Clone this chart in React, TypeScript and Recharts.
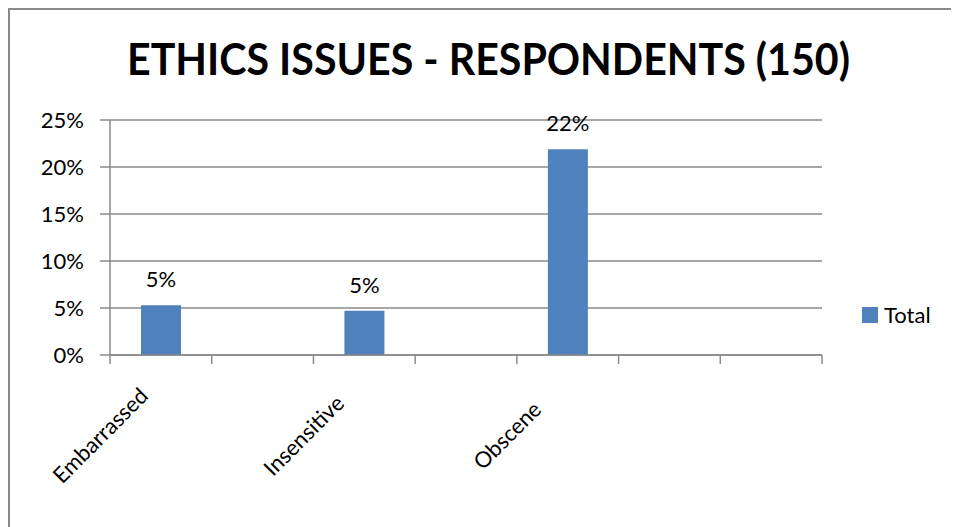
import React from "react";
import { BarChart, Bar, XAxis, YAxis, CartesianGrid, Legend, LabelList } from "recharts";

const CATEGORIES = ["Embarrassed", "", "Insensitive", "", "Obscene", "", ""];
const TOTALS: (number | null)[] = [0.053, null, 0.047, null, 0.219, null, null];
const Y_TICKS = [0, 0.05, 0.1, 0.15, 0.2, 0.25];

const GRID = "#8a8a8a";
const BAR = "#4F81BD";
const FONT = "Lato, 'Noto Sans', sans-serif";

// blank categories still need distinct keys
const data = CATEGORIES.map((name, i) => ({ name: name || `_${i}`, total: TOTALS[i] }));

const pct = (v: number) => `${Math.round(v * 100)}%`;

// excel style: tick marks sit on the band edges, labels turned 45deg
const CategoryTick = (props: any) => {
  const { x, y, payload, index } = props;
  const half = payload?.offset ?? 0;
  const label = CATEGORIES[index];
  const tx = x - 61;
  const ty = y + 80;
  return (
    <g>
      <line x1={x - half} y1={y} x2={x - half} y2={y + 9} stroke={GRID} strokeWidth={1.5} />
      {index === CATEGORIES.length - 1 && (
        <line x1={x + half} y1={y} x2={x + half} y2={y + 9} stroke={GRID} strokeWidth={1.5} />
      )}
      {label && (
        <text
          x={tx}
          y={ty}
          textAnchor="middle"
          dominantBaseline="central"
          transform={`rotate(-45, ${tx}, ${ty})`}
          fontFamily={FONT}
          fontSize={22}
          fill="#000"
        >
          {label}
        </text>
      )}
    </g>
  );
};

const LegendBox = () => (
  <div style={{ display: "flex", alignItems: "center", fontFamily: FONT, fontSize: 22, color: "#000" }}>
    <span style={{ width: 16, height: 16, background: BAR, display: "inline-block", marginRight: 6 }} />
    <span>Total</span>
  </div>
);

export default function App() {
  return (
    <div
      style={{
        position: "relative",
        width: 951,
        height: 519,
        boxSizing: "border-box",
        borderLeft: `2px solid ${GRID}`,
        borderTop: `2px solid ${GRID}`,
        background: "#fff",
      }}
    >
      <svg width={949} height={100} style={{ position: "absolute", left: 0, top: 0 }}>
        <text
          x={117}
          y={65}
          textLength={723}
          lengthAdjust="spacingAndGlyphs"
          fontFamily={FONT}
          fontWeight="bold"
          fontSize={43}
          fill="#000"
        >
          ETHICS ISSUES - RESPONDENTS (150)
        </text>
      </svg>
      <BarChart
        width={949}
        height={517}
        data={data}
        margin={{ top: 110, right: 137, bottom: 0, left: 0 }}
      >
        <CartesianGrid vertical={false} stroke={GRID} strokeWidth={1.5} />
        <XAxis
          dataKey="name"
          interval={0}
          height={172}
          tickSize={0}
          tickMargin={0}
          tickLine={false}
          axisLine={{ stroke: GRID, strokeWidth: 1.5 }}
          tick={<CategoryTick />}
        />
        <YAxis
          width={100}
          domain={[0, 0.25]}
          ticks={Y_TICKS}
          interval={0}
          tickFormatter={pct}
          tickSize={10}
          tickMargin={16}
          axisLine={{ stroke: GRID, strokeWidth: 1.5 }}
          tickLine={{ stroke: GRID, strokeWidth: 1.5 }}
          tick={{ fill: "#000", fontSize: 22, fontFamily: FONT }}
        />
        <Legend
          layout="horizontal"
          align="center"
          verticalAlign="middle"
          width={100}
          content={<LegendBox />}
          wrapperStyle={{ left: 852, top: 291, width: 100 }}
        />
        <Bar dataKey="total" name="Total" fill={BAR} barSize={40} isAnimationActive={false}>
          <LabelList
            dataKey="total"
            position="top"
            offset={18}
            formatter={(v: any) => (v == null ? "" : pct(v))}
            style={{ fill: "#000", fontSize: 22, fontFamily: FONT }}
          />
        </Bar>
      </BarChart>
    </div>
  );
}
